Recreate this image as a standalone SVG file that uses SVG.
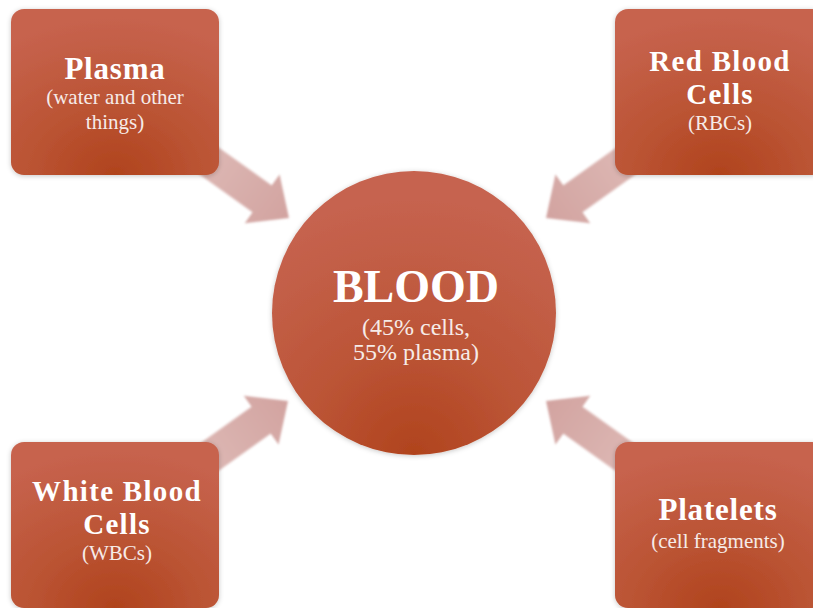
<svg xmlns="http://www.w3.org/2000/svg" width="813" height="608" viewBox="0 0 813 608">
  <defs>
    <radialGradient id="fillG" cx="0.5" cy="1" r="0.95" fx="0.5" fy="1">
      <stop offset="0" stop-color="#b0431d"/>
      <stop offset="0.45" stop-color="#bb5434"/>
      <stop offset="1" stop-color="#c7634e"/>
    </radialGradient>
    <radialGradient id="circG" cx="0.5" cy="1" r="0.9" fx="0.5" fy="1">
      <stop offset="0" stop-color="#b0431d"/>
      <stop offset="0.45" stop-color="#bc5537"/>
      <stop offset="1" stop-color="#c6634f"/>
    </radialGradient>
    <linearGradient id="arrowG" gradientUnits="userSpaceOnUse" x1="-125" y1="0" x2="0" y2="0">
      <stop offset="0" stop-color="#dfbcb8"/>
      <stop offset="1" stop-color="#d2a3a0"/>
    </linearGradient>
    <filter id="shadow" x="-10%" y="-10%" width="120%" height="120%">
      <feDropShadow dx="0" dy="1" stdDeviation="2.5" flood-color="#000" flood-opacity="0.22"/>
    </filter>
    <filter id="soft" x="-10%" y="-10%" width="120%" height="120%">
      <feGaussianBlur stdDeviation="0.8"/>
    </filter>
    <path id="arrow" d="M0,0 L-33,-30 L-33,-16.5 L-125,-16.5 L-125,16.5 L-33,16.5 L-33,30 Z"/>
  </defs>
  <style>
    .box { fill: url(#fillG); filter: url(#shadow); }
    .circ { fill: url(#circG); filter: url(#shadow); }
    .arr { fill: url(#arrowG); filter: url(#soft); }
    .title { font-family: "Liberation Serif", "DejaVu Serif", serif; font-weight: bold; font-size: 31px; letter-spacing: 0.8px; fill: #ffffff; text-anchor: middle; }
    .title2 { font-family: "Liberation Serif", "DejaVu Serif", serif; font-weight: bold; font-size: 29px; letter-spacing: 1.3px; fill: #ffffff; text-anchor: middle; }
    .big { font-family: "Liberation Serif", "DejaVu Serif", serif; font-weight: bold; font-size: 46px; fill: #ffffff; text-anchor: middle; }
    .sub { font-family: "Liberation Serif", "DejaVu Serif", serif; font-size: 21px; fill: #f6ebe8; text-anchor: middle; }
    .sub2 { font-family: "Liberation Serif", "DejaVu Serif", serif; font-size: 24px; fill: #f6ebe8; text-anchor: middle; }
  </style>
  <rect width="813" height="608" fill="#ffffff"/>

  <g id="connectors">
    <use href="#arrow" class="arr" transform="translate(289,218) rotate(35.5)"/>
    <use href="#arrow" class="arr" transform="translate(546,218) rotate(144.5)"/>
    <use href="#arrow" class="arr" transform="translate(288,401) rotate(-35.5)"/>
    <use href="#arrow" class="arr" transform="translate(546,401) rotate(-144.5)"/>
  </g>

  <g id="plasma">
    <rect class="box" x="11" y="9" width="208" height="166" rx="13"/>
    <text class="title" x="115" y="79">Plasma</text>
    <text class="sub" x="115" y="104">(water and other</text>
    <text class="sub" x="115" y="129">things)</text>
  </g>

  <g id="rbc">
    <rect class="box" x="615" y="9" width="210" height="166" rx="13"/>
    <text class="title2" x="720" y="71">Red Blood</text>
    <text class="title2" x="720" y="104">Cells</text>
    <text class="sub" x="720" y="130">(RBCs)</text>
  </g>

  <g id="wbc">
    <rect class="box" x="11" y="442" width="208" height="166" rx="13"/>
    <text class="title2" x="117" y="501">White Blood</text>
    <text class="title2" x="117" y="534">Cells</text>
    <text class="sub" x="117" y="560">(WBCs)</text>
  </g>

  <g id="platelets">
    <rect class="box" x="615" y="442" width="210" height="166" rx="13"/>
    <text class="title" x="718" y="520">Platelets</text>
    <text class="sub" x="718" y="548">(cell fragments)</text>
  </g>

  <g id="blood">
    <circle class="circ" cx="414" cy="313" r="142"/>
    <text class="big" x="416" y="302">BLOOD</text>
    <text class="sub2" x="416" y="335">(45% cells,</text>
    <text class="sub2" x="416" y="360">55% plasma)</text>
  </g>
</svg>
